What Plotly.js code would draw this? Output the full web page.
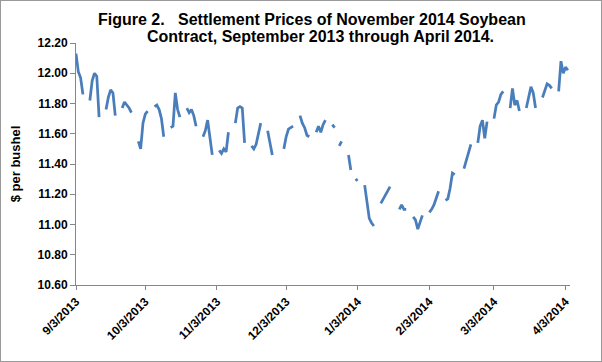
<!DOCTYPE html>
<html>
<head>
<meta charset="utf-8">
<script src="https://cdn.plot.ly/plotly-3.0.1.min.js"></script>
<style>
  html, body { margin: 0; padding: 0; background: #fff; }
  #wrap { position: relative; width: 602px; height: 362px; }
  #chart { position: absolute; left: 0; top: 0; width: 602px; height: 362px; }
  #frame { position: absolute; left: 0; top: 0; width: 600px; height: 360px; border: 1px solid #9a9a9a; pointer-events: none; }
</style>
</head>
<body>
<div id="wrap"><div id="chart"></div><div id="frame"></div></div>
<script>
// Monday of each trading week
const weekStarts = [
  '2013-09-02','2013-09-09','2013-09-16','2013-09-23','2013-09-30',
  '2013-10-07','2013-10-14','2013-10-21','2013-10-28','2013-11-04',
  '2013-11-11','2013-11-18','2013-11-25','2013-12-02','2013-12-09',
  '2013-12-16','2013-12-23','2013-12-30','2014-01-06','2014-01-13',
  '2014-01-20','2014-01-27','2014-02-03','2014-02-10','2014-02-17',
  '2014-02-24','2014-03-03','2014-03-10','2014-03-17','2014-03-24',
  '2014-03-31'
];
// Settlement prices Mon..Fri for each week ($/bu); null = no trade / no data
const weeklyPrices = [
  [null, 12.13, 12.01, 11.97, 11.86],
  [11.82, 11.95, 12.00, 11.98, 11.71],
  [11.76, 11.84, 11.89, 11.87, 11.72],
  [11.77, 11.81, 11.79, 11.77, 11.74],
  [11.55, 11.50, 11.67, 11.73, 11.75],
  [11.78, 11.79, 11.76, 11.70, 11.58],
  [11.64, 11.65, 11.87, 11.76, 11.71],
  [11.77, 11.74, 11.76, 11.72, 11.65],
  [11.58, 11.62, 11.69, 11.56, 11.46],
  [11.49, 11.47, 11.50, 11.48, 11.61],
  [11.67, 11.77, 11.78, 11.77, 11.54],
  [11.52, 11.50, 11.53, 11.60, 11.67],
  [11.62, 11.54, 11.46, null, null],
  [11.50, 11.58, 11.63, 11.64, 11.65],
  [11.72, 11.67, 11.64, 11.59, 11.58],
  [11.61, 11.65, 11.61, 11.66, 11.69],
  [11.66, 11.64, null, 11.52, 11.55],
  [11.46, 11.36, null, 11.29, 11.30],
  [11.26, 11.15, 11.04, 11.01, 10.99],
  [11.14, 11.17, 11.19, 11.22, 11.25],
  [null, 11.10, 11.13, 11.10, 11.10],
  [11.05, 11.03, 10.97, 11.02, 11.06],
  [11.08, 11.10, 11.13, 11.17, 11.22],
  [11.16, 11.17, 11.24, 11.34, 11.33],
  [null, 11.37, 11.43, 11.48, 11.53],
  [11.54, 11.65, 11.69, 11.57, 11.68],
  [11.70, 11.79, 11.81, 11.86, 11.88],
  [11.77, 11.90, 11.79, 11.82, 11.75],
  [11.77, 11.84, 11.91, 11.87, 11.77],
  [11.84, 11.89, 11.93, 11.92, 11.90],
  [11.88, 12.08, 12.00, 12.04, 12.02]
];
const tickDates = ['2013-09-03','2013-10-03','2013-11-03','2013-12-03','2014-01-03','2014-02-03','2014-03-03','2014-04-03'];
const tickLabels = ['9/3/2013','10/3/2013','11/3/2013','12/3/2013','1/3/2014','2/3/2014','3/3/2014','4/3/2014'];
const yTicks = [10.6, 10.8, 11.0, 11.2, 11.4, 11.6, 11.8, 12.0, 12.2];

function addDays(iso, n) {
  const d = new Date(iso + 'T00:00:00Z');
  d.setUTCDate(d.getUTCDate() + n);
  return d.toISOString().slice(0, 10);
}
const xs = [], ys = [];
weekStarts.forEach((mon, w) => {
  weeklyPrices[w].forEach((v, i) => { xs.push(addDays(mon, i)); ys.push(v); });
  xs.push(addDays(mon, 5)); ys.push(null); // weekend break
});

const font = 'Arial, "Liberation Sans", sans-serif';
const data = [{
  x: xs, y: ys, type: 'scatter', mode: 'lines',
  line: { color: '#4a7ebb', width: 2.75 },
  connectgaps: false, hoverinfo: 'x+y'
}];
const L = 76, R = 570, T = 43, B = 285;
const pw = R - L, ph = B - T;
const layout = {
  width: 602, height: 362,
  margin: { l: L, r: 602 - R, t: T, b: 362 - B, pad: 0 },
  paper_bgcolor: '#ffffff', plot_bgcolor: '#ffffff',
  showlegend: false,
  font: { family: font, color: '#000' },
  xaxis: {
    type: 'date',
    range: ['2013-09-03', '2014-04-04 22:00'],
    tickmode: 'array', tickvals: tickDates, ticktext: tickLabels,
    tickangle: -45,
    tickfont: { family: font, size: 12, color: '#000', weight: 'bold' },
    showgrid: false, zeroline: false,
    showline: true, linecolor: '#868686', linewidth: 1,
    ticks: 'outside', ticklen: 4, tickcolor: '#868686', tickwidth: 1
  },
  yaxis: {
    range: [10.6, 12.2],
    tickmode: 'array', tickvals: yTicks, ticktext: yTicks.map(v => v.toFixed(2)),
    tickfont: { family: font, size: 12, color: '#000', weight: 'bold' },
    showgrid: false, zeroline: false,
    showline: true, linecolor: '#868686', linewidth: 1,
    ticks: 'outside', ticklen: 5, tickcolor: '#868686', tickwidth: 1,
    title: { text: '$ per bushel', font: { family: font, size: 13, color: '#000', weight: 'bold' }, standoff: 14 }
  },
  annotations: [
    { text: 'Figure 2.&nbsp;&nbsp;&nbsp;Settlement Prices of November 2014 Soybean',
      xref: 'paper', yref: 'paper', x: (312 - L) / pw, y: 1 + (T - 20) / ph,
      xanchor: 'center', yanchor: 'middle', showarrow: false,
      font: { family: font, size: 16, color: '#000', weight: 'bold' } },
    { text: 'Contract, September 2013 through April 2014.',
      xref: 'paper', yref: 'paper', x: (320.5 - L) / pw, y: 1 + (T - 36) / ph,
      xanchor: 'center', yanchor: 'middle', showarrow: false,
      font: { family: font, size: 16, color: '#000', weight: 'bold' } }
  ]
};
Plotly.newPlot('chart', data, layout, { displayModeBar: false, staticPlot: true });
</script>
</body>
</html>
